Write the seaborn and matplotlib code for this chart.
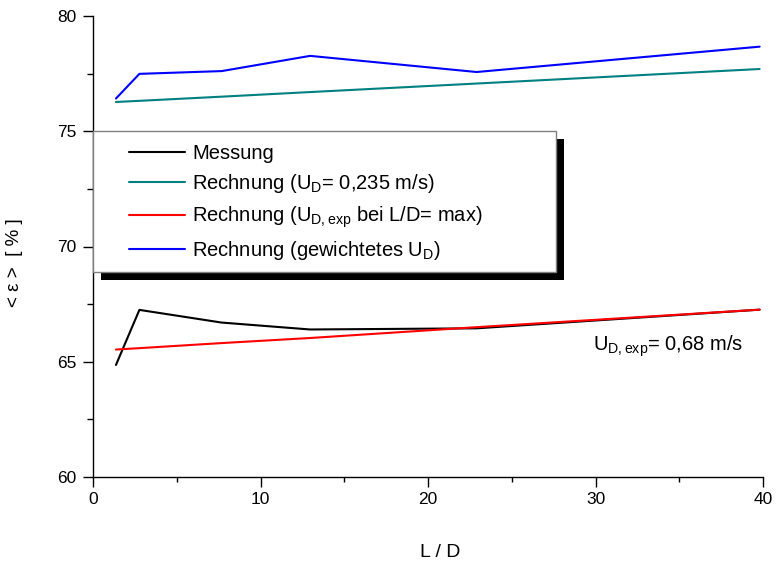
import numpy as np
import pandas as pd
import matplotlib
matplotlib.use("Agg")
import matplotlib.pyplot as plt
from matplotlib.patches import Rectangle
from matplotlib.ticker import MultipleLocator
import seaborn as sns

# L/D positions and the four curves
l_over_d = [1.37, 2.77, 7.68, 12.96, 22.9, 39.8]
messung = [64.86, 67.25, 66.70, 66.40, 66.45, 67.26]
rechnung_const = [76.27, 76.32, 76.50, 76.70, 77.07, 77.70]
rechnung_exp = [65.53, 65.59, 65.81, 66.03, 66.50, 67.26]
rechnung_gew = [76.42, 77.49, 77.61, 78.27, 77.57, 78.67]

labels = [
    "Messung",
    r"Rechnung (U$_{\mathregular{D}}$= 0,235 m/s)",
    r"Rechnung (U$_{\mathregular{D,exp}}$ bei L/D= max)",
    r"Rechnung (gewichtetes U$_{\mathregular{D}}$)",
]
colors = ["black", "#008080", "#ff0000", "#0000ff"]

sns.set_style("ticks")
plt.rcParams["font.family"] = ["Liberation Sans", "DejaVu Sans"]
plt.rcParams["mathtext.fontset"] = "custom"
plt.rcParams["mathtext.rm"] = "Liberation Sans"
plt.rcParams["mathtext.it"] = "Liberation Sans"
plt.rcParams["mathtext.default"] = "regular"
for k in ["text.color", "axes.labelcolor", "xtick.color", "ytick.color", "axes.edgecolor"]:
    plt.rcParams[k] = "black"

fig = plt.figure(figsize=(7.78, 5.62), dpi=100)
ax = fig.add_axes([93 / 778, 1 - 477 / 562, 670 / 778, 461 / 562])

series = [messung, rechnung_const, rechnung_exp, rechnung_gew]
for vals, lab, col in zip(series, labels, colors):
    sns.lineplot(x=l_over_d, y=vals, color=col, label=lab, lw=1.5, ax=ax)
# red over black where they overlap
ax.lines[2].set_zorder(3)

ax.set_xlim(0, 40)
ax.set_ylim(60, 80)
ax.xaxis.set_major_locator(MultipleLocator(10))
ax.xaxis.set_minor_locator(MultipleLocator(5))
ax.yaxis.set_major_locator(MultipleLocator(5))
ax.yaxis.set_minor_locator(MultipleLocator(2.5))
sns.despine(ax=ax)
for s in ["left", "bottom"]:
    ax.spines[s].set_linewidth(1.0)
ax.tick_params(which="major", direction="out", length=7, width=1.0, labelsize=12.5)
ax.tick_params(axis="x", which="minor", direction="out", length=3.6, width=1.0)
ax.tick_params(axis="y", which="minor", direction="out", length=4.3, width=1.0)
ax.tick_params(axis="y", which="major", pad=5)
ax.tick_params(axis="x", which="major", pad=4)

ax.set_xlabel("L / D", fontsize=14)
ax.set_ylabel("< ε >  [ % ]", fontsize=13.5)
ax.xaxis.set_label_coords(0.518, -0.145)
ax.yaxis.set_label_coords(-0.104, 0.464)

# legend box with solid shadow
bx0, by0, bw, bh = 0.0, 0.4447, 0.691, 0.3053
ax.add_patch(Rectangle((bx0 + 0.0119, by0 - 0.0174), bw, bh, transform=ax.transAxes,
                       facecolor="black", edgecolor="none", zorder=4, clip_on=False))
ax.add_patch(Rectangle((bx0, by0), bw, bh, transform=ax.transAxes,
                       facecolor="white", edgecolor="#808080", lw=1.0, zorder=4.5, clip_on=False))
leg = ax.legend(loc="upper left", bbox_to_anchor=(0.0537, 0.722), frameon=False,
                borderaxespad=0, borderpad=0, handlelength=2.8, handletextpad=0.35,
                labelspacing=0.46, fontsize=14.5)
leg.set_zorder(6)

ax.text(29.85, 65.48, r"U$_{\mathregular{D,exp}}$= 0,68 m/s", fontsize=14.5,
        ha="left", va="baseline")

fig.savefig("out.png", dpi=100)
